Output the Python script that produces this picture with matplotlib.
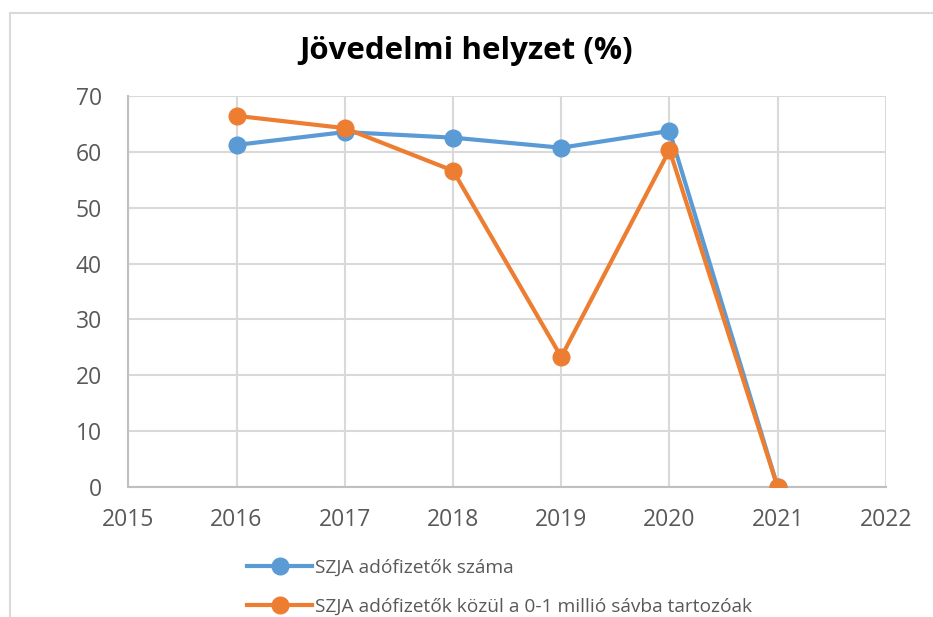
import matplotlib

matplotlib.use("Agg")
import matplotlib.pyplot as plt
from matplotlib.patches import Rectangle

# ── data ──────────────────────────────────────────────────────────────────────
years = [2016, 2017, 2018, 2019, 2020, 2021]
szja_total = [61.2, 63.5, 62.5, 60.7, 63.7, 0.0]
szja_low_band = [66.4, 64.2, 56.6, 23.3, 60.3, 0.0]
series_names = [
    "SZJA adófizetők száma",
    "SZJA adófizetők közül a 0-1 millió sávba tartozóak",
]
title = "Jövedelmi helyzet (%)"

BLUE = "#5B9BD5"
ORANGE = "#ED7D31"
GRID = "#D9D9D9"
AXIS = "#BFBFBF"
TICK = "#595959"
FONT = "Open Sans"

fig = plt.figure(figsize=(9.33, 6.17), dpi=100)
fig.patch.set_facecolor("white")

# outer chart frame (runs off the right/bottom edge in the reference)
fig.patches.append(
    Rectangle((10 / 933, -0.1), 1.2, 1 - 13 / 617 + 0.1, transform=fig.transFigure,
              facecolor="none", edgecolor=GRID, linewidth=1.5, zorder=0)
)

ax = fig.add_axes([0.1375, 0.2102, 0.8121, 0.6347])
ax.plot(years, szja_total, color=BLUE, lw=3, marker="o", ms=12, label=series_names[0], zorder=3)
ax.plot(years, szja_low_band, color=ORANGE, lw=3, marker="o", ms=12, label=series_names[1], zorder=4)

ax.set_xlim(2015, 2022)
ax.set_ylim(0, 70)
ax.set_xticks(range(2015, 2023))
ax.set_yticks(range(0, 71, 10))
ax.grid(True, color=GRID, lw=1.5, zorder=0)
ax.set_axisbelow(True)
for s in ("top", "right"):
    ax.spines[s].set_visible(False)
for s in ("left", "bottom"):
    ax.spines[s].set_color(AXIS)
    ax.spines[s].set_linewidth(1.5)
ax.tick_params(axis="both", length=0, labelsize=16.5, labelcolor=TICK)
ax.tick_params(axis="y", pad=19)
ax.tick_params(axis="x", pad=15)
for t in ax.get_xticklabels() + ax.get_yticklabels():
    t.set_fontfamily(FONT)

fig.text(0.5, 1 - 51 / 617, title, ha="center", va="center",
         fontsize=22.5, fontweight="bold", fontfamily=FONT, color="black")

ax.legend(loc="upper left", bbox_to_anchor=(247 / 933, 1 - 559 / 617),
          bbox_transform=fig.transFigure, frameon=False, handlelength=3.4,
          handletextpad=0.15, labelspacing=1.08, borderaxespad=0, borderpad=0,
          prop={"family": FONT, "size": 13.8}, labelcolor=TICK)

fig.savefig("out.png", dpi=100, facecolor="white")
